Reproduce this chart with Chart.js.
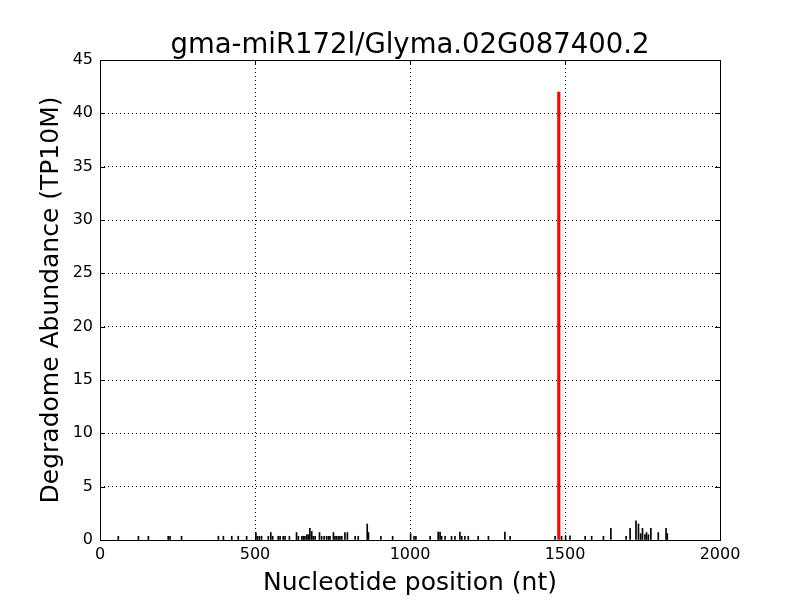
<!DOCTYPE html>
<html>
<head>
<meta charset="utf-8">
<script src="https://cdn.jsdelivr.net/npm/chart.js@4/dist/chart.umd.min.js"></script>
<style>
  body { margin: 0; background: #fff; }
  canvas { display: block; }
</style>
</head>
<body>
<canvas id="chart" width="800" height="600"></canvas>
<script>
// degradome reads per nucleotide position
var positions = [59, 124, 156, 220, 226, 263, 382, 398, 425, 446, 473, 503, 508, 514, 521,
  543, 551, 557, 575, 581, 591, 597, 611, 634, 640, 651, 656, 661, 667, 672, 677, 683,
  688, 694, 708, 715, 723, 731, 737, 742, 753, 758, 763, 769, 774, 780, 790, 798, 823,
  833, 862, 866, 906, 944, 1002, 1013, 1019, 1065, 1091, 1097, 1102, 1113, 1134, 1145,
  1161, 1167, 1177, 1188, 1220, 1253, 1306, 1323, 1468, 1489, 1502, 1516, 1565, 1586,
  1624, 1648, 1697, 1710, 1729, 1737, 1744, 1750, 1758, 1763, 1769, 1777, 1801, 1826, 1830];
var abundance = [0.35, 0.35, 0.35, 0.35, 0.35, 0.35, 0.35, 0.35, 0.35, 0.35, 0.35, 0.7, 0.35, 0.35, 0.35,
  0.35, 0.7, 0.35, 0.35, 0.35, 0.35, 0.35, 0.35, 0.7, 0.35, 0.35, 0.35, 0.35, 0.5, 0.5, 1.1, 0.8,
  0.35, 0.35, 0.7, 0.35, 0.35, 0.35, 0.35, 0.35, 0.7, 0.35, 0.35, 0.35, 0.35, 0.35, 0.7, 0.7, 0.35,
  0.35, 1.5, 0.7, 0.35, 0.35, 0.6, 0.35, 0.35, 0.35, 0.75, 0.75, 0.35, 0.35, 0.35, 0.35,
  0.75, 0.35, 0.35, 0.35, 0.35, 0.35, 0.75, 0.35, 0.35, 0.35, 0.35, 0.4, 0.35, 0.35,
  0.35, 1.1, 0.35, 1.1, 1.8, 1.5, 0.6, 1.1, 0.5, 0.7, 0.5, 1.1, 0.7, 1.1, 0.6];

// miRNA cleavage site
var sitePosition = [1480];
var siteAbundance = [42];

var xTicks = [0, 500, 1000, 1500, 2000];
var yTicks = [0, 5, 10, 15, 20, 25, 30, 35, 40, 45];
var chartTitle = 'gma-miR172l/Glyma.02G087400.2';

var FONT = "'DejaVu Sans', sans-serif";

var ctx = document.getElementById('chart').getContext('2d');

// box around the plot, inward tick marks and title centred over the axes
var frame = {
  id: 'frame',
  afterDraw: function(chart) {
    var a = chart.chartArea;
    var c = chart.ctx;
    var xs = chart.scales.x, ys = chart.scales.y;
    c.save();
    c.strokeStyle = '#000';
    c.lineWidth = 1;
    c.beginPath();
    xTicks.forEach(function(v) {
      var px = Math.round(xs.getPixelForValue(v)) + 0.5;
      c.moveTo(px, a.bottom); c.lineTo(px, a.bottom - 5);
      c.moveTo(px, a.top); c.lineTo(px, a.top + 5);
    });
    yTicks.forEach(function(v) {
      var py = Math.round(ys.getPixelForValue(v)) + 0.5;
      c.moveTo(a.left, py); c.lineTo(a.left + 5, py);
      c.moveTo(a.right, py); c.lineTo(a.right - 5, py);
    });
    c.stroke();
    c.strokeRect(Math.round(a.left) + 0.5, Math.round(a.top) + 0.5,
      Math.round(a.right - a.left), Math.round(a.bottom - a.top));

    c.fillStyle = '#000';
    c.font = "27.5px " + FONT;
    c.textAlign = 'center';
    c.textBaseline = 'alphabetic';
    c.fillText(chartTitle, (a.left + a.right) / 2, 53);
    c.restore();
  }
};

new Chart(ctx, {
  type: 'bar',
  data: {
    datasets: [{
      data: positions.map(function(p, i) { return {x: p, y: abundance[i]}; }),
      backgroundColor: '#000',
      barThickness: 1
    }, {
      data: sitePosition.map(function(p, i) { return {x: p, y: siteAbundance[i]}; }),
      backgroundColor: '#ff0000',
      barThickness: 2.5
    }]
  },
  options: {
    responsive: false,
    animation: false,
    grouped: false,
    layout: { padding: { top: 60, right: 80 } },
    plugins: {
      legend: { display: false },
      tooltip: { enabled: false },
      title: { display: false }
    },
    scales: {
      x: {
        type: 'linear',
        offset: false,
        min: 0, max: 2000,
        afterBuildTicks: function(s) { s.ticks = xTicks.map(function(v) { return {value: v}; }); },
        afterFit: function(s) { s.height = 60; },
        ticks: {
          color: '#000', padding: 5, font: { family: FONT, size: 16 },
          callback: function(v) { return String(v); }
        },
        grid: { color: '#000', lineWidth: 1, drawTicks: false, offset: false },
        border: { display: false, dash: [1, 3] },
        title: {
          display: true,
          text: 'Nucleotide position (nt)',
          color: '#000',
          font: { family: FONT, size: 25 },
          padding: { top: 0, bottom: 2 }
        }
      },
      y: {
        min: 0, max: 45,
        afterBuildTicks: function(s) { s.ticks = yTicks.map(function(v) { return {value: v}; }); },
        afterFit: function(s) { s.width = 100; },
        ticks: {
          color: '#000', padding: 7, font: { family: FONT, size: 16 },
          callback: function(v) { return String(v); }
        },
        grid: { color: '#000', lineWidth: 1, drawTicks: false },
        border: { display: false, dash: [1, 3] },
        title: {
          display: true,
          text: 'Degradome Abundance (TP10M)',
          color: '#000',
          font: { family: FONT, size: 25 },
          padding: { top: 36, bottom: 0 }
        }
      }
    }
  },
  plugins: [frame]
});
</script>
</body>
</html>
